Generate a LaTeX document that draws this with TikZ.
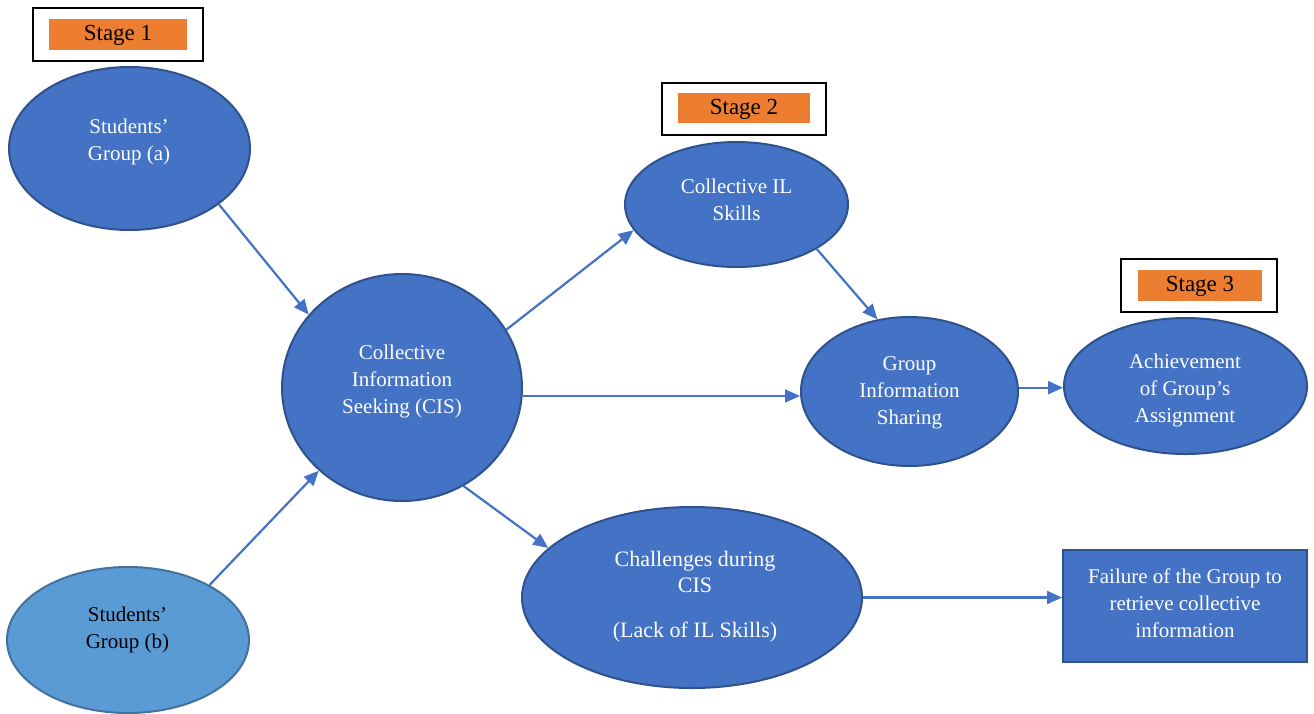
\documentclass[tikz,border=0pt]{standalone}
\usepackage{fontspec}
\setmainfont{Liberation Serif}
\usetikzlibrary{shapes.geometric,arrows.meta}
\definecolor{blobfill}{HTML}{4472C4}
\definecolor{blobline}{HTML}{2F528F}
\definecolor{lightfill}{HTML}{5B9BD5}
\definecolor{lightline}{HTML}{41719C}
\definecolor{stageorange}{HTML}{ED7D31}
\tikzset{
  blob/.style={ellipse, draw=blobline, fill=blobfill, line width=2pt, inner sep=0pt},
  lightblob/.style={blob, draw=lightline, fill=lightfill},
  txt/.style={align=center, text=white, inner sep=0pt, font=\fontsize{21}{27}\selectfont},
  darktxt/.style={txt, text=black},
  stageframe/.style={draw=black, fill=white, line width=1.4pt, inner sep=0pt},
  stagetag/.style={fill=stageorange, inner sep=0pt, font=\fontsize{23}{27}\selectfont, text=black},
  flow/.style={draw=blobfill, line width=2.2pt, -{Triangle[length=15pt,width=13pt]}},
}
\begin{document}
\begin{tikzpicture}[x=1pt,y=-1pt]
\useasboundingbox (0,0) rectangle (1314,713);

% stage markers
\node[stageframe, minimum width=170pt, minimum height=53pt] (s1f) at (118,34.5) {};
\node[stagetag, minimum width=138pt, minimum height=31pt, text depth=3pt] (s1) at (118,34.5) {Stage 1};
\node[stageframe, minimum width=164pt, minimum height=52pt] (s2f) at (744,109) {};
\node[stagetag, minimum width=132pt, minimum height=30pt, text depth=3pt] (s2) at (744,108) {Stage 2};
\node[stageframe, minimum width=156pt, minimum height=53pt] (s3f) at (1199,285.5) {};
\node[stagetag, minimum width=124pt, minimum height=31pt, text depth=3pt] (s3) at (1200,285.5) {Stage 3};

% ellipses
\node[blob, minimum width=241pt, minimum height=163pt] (ga) at (129.5,148.5) {};
\node[txt] (gat) at (129,141.5) {Students’\\Group (a)};

\node[lightblob, minimum width=242pt, minimum height=146pt] (gb) at (128,640) {};
\node[darktxt] (gbt) at (127.5,629.5) {Students’\\Group (b)};

\node[blob, minimum width=240pt, minimum height=227pt] (cis) at (402,387.5) {};
\node[txt] (cist) at (402,381) {Collective\\Information\\Seeking (CIS)};

\node[blob, minimum width=223pt, minimum height=125pt] (il) at (736.5,204.5) {};
\node[txt] (ilt) at (736.5,200) {Collective IL\\Skills};

\node[blob, minimum width=217pt, minimum height=149pt] (gis) at (909.5,391.5) {};
\node[txt] (gist) at (909.5,393) {Group\\Information\\Sharing};

\node[blob, minimum width=243pt, minimum height=136pt] (ach) at (1185.5,386) {};
\node[txt] (acht) at (1185,390.5) {Achievement\\of Group’s\\Assignment};

\node[blob, minimum width=340pt, minimum height=181pt] (ch) at (692,597.5) {};
\node[txt, font=\fontsize{22}{26}\selectfont] (cht) at (695,596.5) {Challenges during\\CIS\\[19pt] (Lack of IL Skills)};

% outcome box
\node[draw=blobline, fill=blobfill, line width=2pt, minimum width=244pt, minimum height=112pt, inner sep=0pt] (fail) at (1185,606) {};
\node[txt] (failt) at (1185,603.5) {Failure of the Group to\\retrieve collective\\information};

% connectors
\draw[flow] (ga.-32.4) -- (cis.142.5);
\draw[flow] (gb.34) -- (cis.225);
\draw[flow] (cis.29.5) -- (il.194.4);
\draw[flow] (cis.-4.5) -- (cis.-4.5 -| gis.west);
\draw[flow] (cis.-58.2) -- (ch.161);
\draw[flow] (il.-29.5) -- (gis.114.7);
\draw[flow] (gis.2.9) -- (gis.2.9 -| ach.west);
\draw[flow] (ch.east) -- (ch.east -| fail.west);
\end{tikzpicture}
\end{document}
